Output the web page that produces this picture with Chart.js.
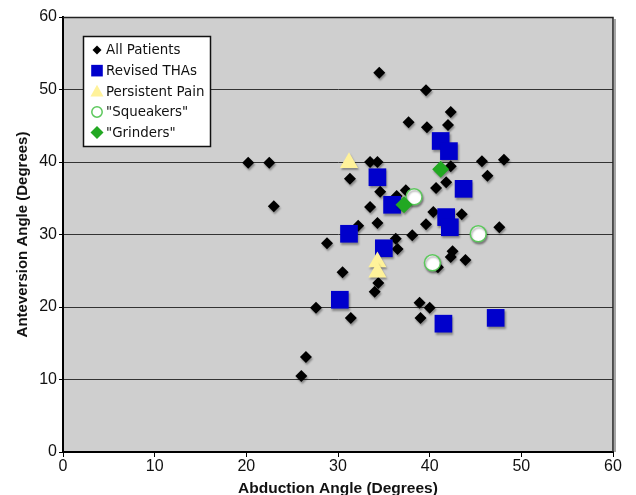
<!DOCTYPE html>
<html>
<head>
<meta charset="utf-8">
<script src="https://cdn.jsdelivr.net/npm/chart.js@4.4.0/dist/chart.umd.min.js"></script>
<style>
body{margin:0;background:#fff}
</style>
</head>
<body>
<canvas id="myChart" width="636" height="495"></canvas>
<script>
var axisTicks = [0, 10, 20, 30, 40, 50, 60]
var seriesNames = ['All Patients', 'Revised THAs', 'Persistent Pain', '"Squeakers"', '"Grinders"']

// abduction (x) / anteversion (y), degrees
var allPatients = [
    {x: 20.2, y: 39.9}, {x: 22.5, y: 39.9}, {x: 23.0, y: 33.9}, {x: 34.5, y: 52.3},
    {x: 39.6, y: 49.9}, {x: 42.3, y: 46.9}, {x: 37.7, y: 45.5}, {x: 39.7, y: 44.8},
    {x: 42.0, y: 45.1}, {x: 33.5, y: 40.0}, {x: 34.3, y: 40.0}, {x: 42.3, y: 39.4},
    {x: 45.7, y: 40.1}, {x: 48.1, y: 40.3}, {x: 46.3, y: 38.1}, {x: 31.3, y: 37.7},
    {x: 34.6, y: 35.9}, {x: 41.8, y: 37.2}, {x: 40.7, y: 36.4}, {x: 37.4, y: 36.1},
    {x: 33.5, y: 33.8}, {x: 34.3, y: 31.6}, {x: 40.4, y: 33.1}, {x: 43.5, y: 32.8},
    {x: 39.6, y: 31.4}, {x: 47.6, y: 31.0}, {x: 38.1, y: 29.9}, {x: 36.3, y: 29.4},
    {x: 32.2, y: 31.2}, {x: 28.8, y: 28.8}, {x: 30.5, y: 24.8}, {x: 34.0, y: 22.1},
    {x: 34.4, y: 23.3}, {x: 27.6, y: 19.9}, {x: 31.4, y: 18.5}, {x: 36.5, y: 28.0},
    {x: 42.5, y: 27.7}, {x: 42.3, y: 26.9}, {x: 43.9, y: 26.5}, {x: 40.9, y: 25.5},
    {x: 38.9, y: 20.6}, {x: 40.0, y: 19.9}, {x: 39.0, y: 18.5}, {x: 26.5, y: 13.1},
    {x: 26.0, y: 10.5}, {x: 36.4, y: 35.3}
]
var revisedTHAs = [
    {x: 41.2, y: 42.9}, {x: 42.1, y: 41.5}, {x: 34.3, y: 37.9}, {x: 43.7, y: 36.3},
    {x: 35.9, y: 34.1}, {x: 41.8, y: 32.4}, {x: 42.2, y: 31.0}, {x: 31.2, y: 30.1},
    {x: 35.0, y: 28.1}, {x: 30.2, y: 21.0}, {x: 41.5, y: 17.7}, {x: 47.2, y: 18.5}
]
var persistentPain = [
    {x: 31.2, y: 39.9}, {x: 34.3, y: 26.2}, {x: 34.3, y: 24.8}
]
var squeakers = [
    {x: 38.3, y: 35.2}, {x: 45.3, y: 30.1}, {x: 40.3, y: 26.1}
]
var grinders = [
    {x: 41.2, y: 39.0}, {x: 37.2, y: 34.1}
]

var chartField = document.querySelector('#myChart').getContext('2d')
Chart.defaults.font.family = "'Liberation Sans', Arial, sans-serif"
Chart.defaults.color = '#111'

var plotLook = {
    id: 'plotLook',
    beforeDraw: function(chart) {
        var a = chart.chartArea, c = chart.ctx
        c.save()
        c.fillStyle = '#cfcfcf'
        c.fillRect(a.left, a.top, a.right - a.left, a.bottom - a.top)
        c.restore()
    },
    beforeDatasetsDraw: function(chart) {
        var c = chart.ctx
        c.save()
        c.shadowColor = 'rgba(0,0,0,0.35)'
        c.shadowBlur = 2
        c.shadowOffsetX = 1
        c.shadowOffsetY = 2
    },
    afterDatasetsDraw: function(chart) {
        chart.ctx.restore()
    },
    afterDraw: function(chart) {
        var a = chart.chartArea, c = chart.ctx
        c.save()
        // top and right frame
        c.strokeStyle = '#222'
        c.lineWidth = 1.5
        c.beginPath()
        c.moveTo(a.left, a.top + 0.5)
        c.lineTo(a.right, a.top + 0.5)
        c.lineTo(a.right, a.bottom)
        c.stroke()
        c.strokeStyle = 'rgba(0,0,0,0.35)'
        c.lineWidth = 2
        c.beginPath()
        c.moveTo(a.right + 2, a.top + 2)
        c.lineTo(a.right + 2, a.bottom)
        c.stroke()
        drawLegend(chart, c)
        c.restore()
    }
}

function drawLegend(chart, c) {
    var bx = 83.5, by = 36.5, bw = 127, bh = 110
    c.fillStyle = '#fff'
    c.fillRect(bx, by, bw, bh)
    c.strokeStyle = '#111'
    c.lineWidth = 1.5
    c.strokeRect(bx, by, bw, bh)
    c.font = "13.4px 'DejaVu Sans', Verdana, sans-serif"
    c.textBaseline = 'middle'
    c.textAlign = 'left'
    var sizes = [4.5, 5.8, 6.5, 5.2, 6.5]
    chart.data.datasets.forEach(function(ds, i) {
        var x = 97, y = 50 + i * 20.65, r = sizes[i]
        c.fillStyle = ds.backgroundColor
        c.strokeStyle = ds.borderColor
        c.lineWidth = ds.borderWidth
        c.beginPath()
        if (ds.pointStyle == 'rectRot') {
            c.moveTo(x, y - r); c.lineTo(x + r, y); c.lineTo(x, y + r); c.lineTo(x - r, y); c.closePath()
        } else if (ds.pointStyle == 'rect') {
            c.rect(x - r, y - r, 2 * r, 2 * r)
        } else if (ds.pointStyle == 'triangle') {
            c.moveTo(x, y - r); c.lineTo(x + r, y + r * 0.8); c.lineTo(x - r, y + r * 0.8); c.closePath()
        } else {
            c.arc(x, y, r, 0, Math.PI * 2)
        }
        c.fill()
        if (ds.borderWidth) c.stroke()
        c.fillStyle = '#111'
        c.fillText(ds.label, 106, y + 1)
    })
}

function makeSet(i, data, style, radius, fill, border, borderWidth) {
    return {
        label: seriesNames[i],
        data: data,
        pointStyle: style,
        pointRadius: radius,
        pointHoverRadius: radius,
        backgroundColor: fill,
        borderColor: border,
        borderWidth: borderWidth,
        order: 5 - i
    }
}

var myChart = new Chart(chartField, {
    type: 'scatter',
    data: {
        datasets: [
            makeSet(0, allPatients, 'rectRot', 6, '#000', '#000', 0),
            makeSet(1, revisedTHAs, 'rect', 12.5, '#0000cc', '#0000cc', 0),
            makeSet(2, persistentPain, 'triangle', 10.5, '#fff29a', '#fff29a', 0),
            makeSet(3, squeakers, 'circle', 8, '#ffffff', '#5cc85c', 1.5),
            makeSet(4, grinders, 'rectRot', 8.5, '#22a822', '#22a822', 0)
        ]
    },
    options: {
        responsive: false,
        animation: false,
        layout: {padding: {top: 17, right: 23, left: 0, bottom: 0}},
        plugins: {legend: {display: false}, tooltip: {enabled: false}},
        scales: {
            x: {
                type: 'linear',
                min: axisTicks[0],
                max: axisTicks[axisTicks.length - 1],
                ticks: {stepSize: axisTicks[1] - axisTicks[0], padding: 0, font: {size: 16}, color: '#111'},
                grid: {drawOnChartArea: false, tickLength: 5, color: '#000', tickColor: '#000'},
                border: {color: '#000', width: 2},
                title: {display: true, text: 'Abduction Angle (Degrees)', color: '#111',
                    font: {size: 15.5, weight: 'bold', lineHeight: 1}, padding: {top: 0, bottom: -1}},
                afterFit: function(s) { s.height = 43 }
            },
            y: {
                type: 'linear',
                min: axisTicks[0],
                max: axisTicks[axisTicks.length - 1],
                ticks: {stepSize: axisTicks[1] - axisTicks[0], padding: 2, font: {size: 16}, color: '#111'},
                grid: {color: '#333', lineWidth: 1, tickLength: 4, tickColor: '#000'},
                border: {color: '#000', width: 2},
                title: {display: true, text: 'Anteversion Angle (Degrees)', color: '#111',
                    font: {size: 15, weight: 'bold', lineHeight: 1}, padding: {top: 15, bottom: 0}},
                afterFit: function(s) { s.width = 63 }
            }
        }
    },
    plugins: [plotLook]
})
</script>
</body>
</html>
